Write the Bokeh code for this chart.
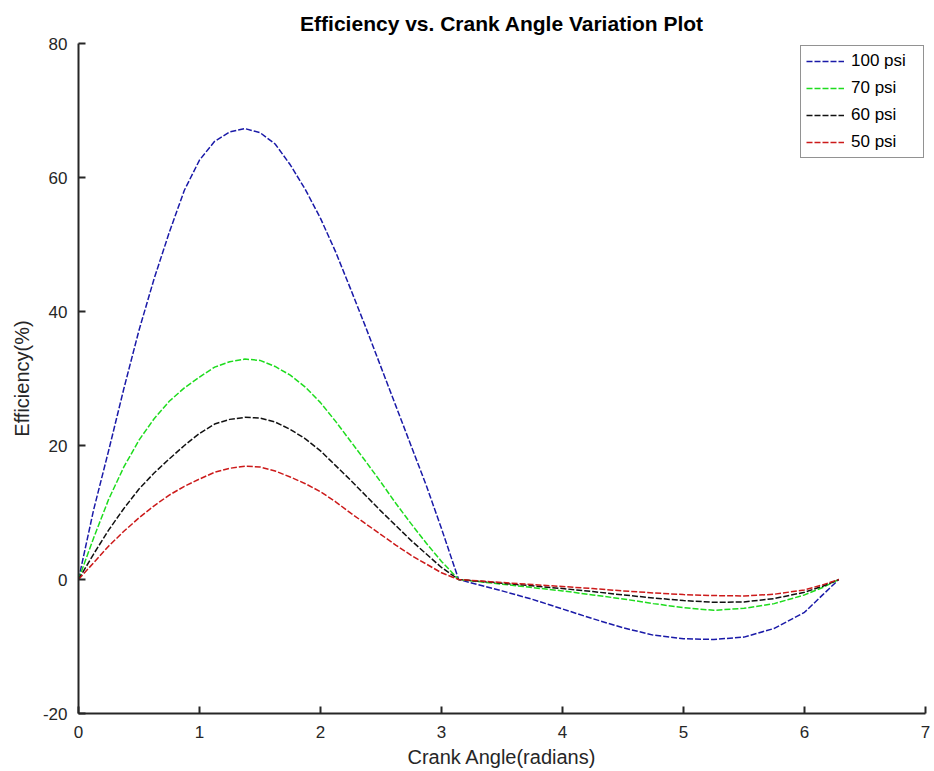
from bokeh.plotting import figure
from bokeh.models import Range1d, FixedTicker, Legend, LegendItem
from bokeh.embed import file_html
from bokeh.resources import INLINE

# Crank angle (radians)
angle = [0.0, 0.125, 0.25, 0.375, 0.5, 0.625, 0.75, 0.875, 1.0, 1.125, 1.25, 1.375, 1.5,
         1.625, 1.75, 1.875, 2.0, 2.125, 2.25, 2.375, 2.5, 2.625, 2.75, 2.875, 3.0, 3.1416,
         3.5, 3.75, 4.0, 4.25, 4.5, 4.75, 5.0, 5.25, 5.5, 5.75, 6.0, 6.15, 6.2832]

eff_100 = [0, 10.4, 19.3, 28.5, 37.2, 44.9, 51.8, 58.1, 62.6, 65.4, 66.8, 67.3, 66.7,
           65.0, 61.9, 58.2, 53.9, 48.9, 43.3, 37.6, 31.7, 25.8, 19.9, 14.0, 7.6, 0,
           -1.7, -2.95, -4.4, -5.85, -7.2, -8.3, -8.85, -8.95, -8.6, -7.3, -4.9, -2.3, 0]
eff_70 = [0, 6.2, 12.0, 16.8, 20.8, 24.0, 26.6, 28.6, 30.2, 31.7, 32.5, 32.9, 32.7,
          31.8, 30.5, 28.7, 26.4, 23.6, 20.6, 17.6, 14.5, 11.3, 8.3, 5.4, 2.7, 0,
          -0.7, -1.2, -1.7, -2.3, -2.9, -3.6, -4.2, -4.6, -4.3, -3.6, -2.3, -1.2, 0]
eff_60 = [0, 3.8, 7.4, 10.6, 13.5, 15.9, 18.0, 20.0, 21.8, 23.2, 23.9, 24.2, 24.1,
          23.5, 22.4, 21.0, 19.2, 17.0, 14.8, 12.5, 10.2, 8.0, 5.8, 3.8, 1.8, 0,
          -0.55, -0.95, -1.35, -1.8, -2.3, -2.75, -3.15, -3.4, -3.35, -2.85, -1.9, -1.0, 0]
eff_50 = [0, 2.5, 5.0, 7.2, 9.2, 11.0, 12.6, 13.9, 15.0, 16.0, 16.6, 16.9, 16.8,
          16.2, 15.3, 14.3, 13.1, 11.6, 9.9, 8.3, 6.7, 5.1, 3.6, 2.3, 1.0, 0,
          -0.45, -0.75, -1.05, -1.35, -1.7, -2.0, -2.25, -2.4, -2.45, -2.2, -1.55, -0.8, 0]

labels = ["100 psi", "70 psi", "60 psi", "50 psi"]
colors = ["#1a1aa8", "#1edc1e", "#111111", "#cc1a1a"]
values = [eff_100, eff_70, eff_60, eff_50]

x_ticks = [0, 1, 2, 3, 4, 5, 6, 7]
y_ticks = [-20, 0, 20, 40, 60, 80]
title_text = "Efficiency vs. Crank Angle Variation Plot"

FONT = "Liberation Sans"

p = figure(width=934, height=771, output_backend="svg", toolbar_location=None,
           x_range=Range1d(0, 7), y_range=Range1d(-20, 80),
           min_border_left=78, min_border_right=9, min_border_top=43, min_border_bottom=58)

p.title.text = title_text
p.title.align = "center"
p.title.text_font = FONT
p.title.text_font_size = "21px"
p.title.text_font_style = "bold"
p.title.text_color = "#000000"
p.title.standoff = 17

p.outline_line_color = None
p.xgrid.visible = False
p.ygrid.visible = False

for ax in (p.xaxis[0], p.yaxis[0]):
    ax.major_tick_in = 7
    ax.major_tick_out = 0
    ax.minor_tick_line_color = None
    ax.axis_line_color = "#262626"
    ax.axis_line_width = 2
    ax.major_tick_line_color = "#262626"
    ax.major_tick_line_width = 2
    ax.major_label_text_font = FONT
    ax.major_label_text_font_size = "17px"
    ax.major_label_text_color = "#262626"
    ax.axis_label_text_font = FONT
    ax.axis_label_text_font_size = "20px"
    ax.axis_label_text_font_style = "normal"
    ax.axis_label_text_color = "#262626"

p.xaxis.ticker = FixedTicker(ticks=x_ticks)
p.yaxis.ticker = FixedTicker(ticks=y_ticks)
p.yaxis.major_label_overrides = {t: str(t) for t in y_ticks}
p.xaxis.major_label_overrides = {t: str(t) for t in x_ticks}
p.xaxis.axis_label = "Crank Angle(radians)"
p.yaxis.axis_label = "Efficiency(%)"
p.xaxis.major_label_standoff = 12
p.yaxis.major_label_standoff = 11
p.xaxis.axis_label_standoff = 5
p.yaxis.axis_label_standoff = 7

items = []
for name, ys, color in zip(labels, values, colors):
    r = p.line(angle, ys, line_color=color, line_width=1.5, line_dash="6 2")
    items.append(LegendItem(label=name, renderers=[r]))

legend = Legend(items=items, location=(722, 555), margin=0, padding=5, spacing=7,
                label_height=20, glyph_height=20, glyph_width=38, label_standoff=7,
                label_width=67,
                label_text_font=FONT, label_text_font_size="17px", label_text_color="#000000",
                border_line_color="#262626", border_line_width=1.2,
                background_fill_color="white", background_fill_alpha=1.0)
p.add_layout(legend)

open("out.html", "w").write(file_html(p, INLINE))
